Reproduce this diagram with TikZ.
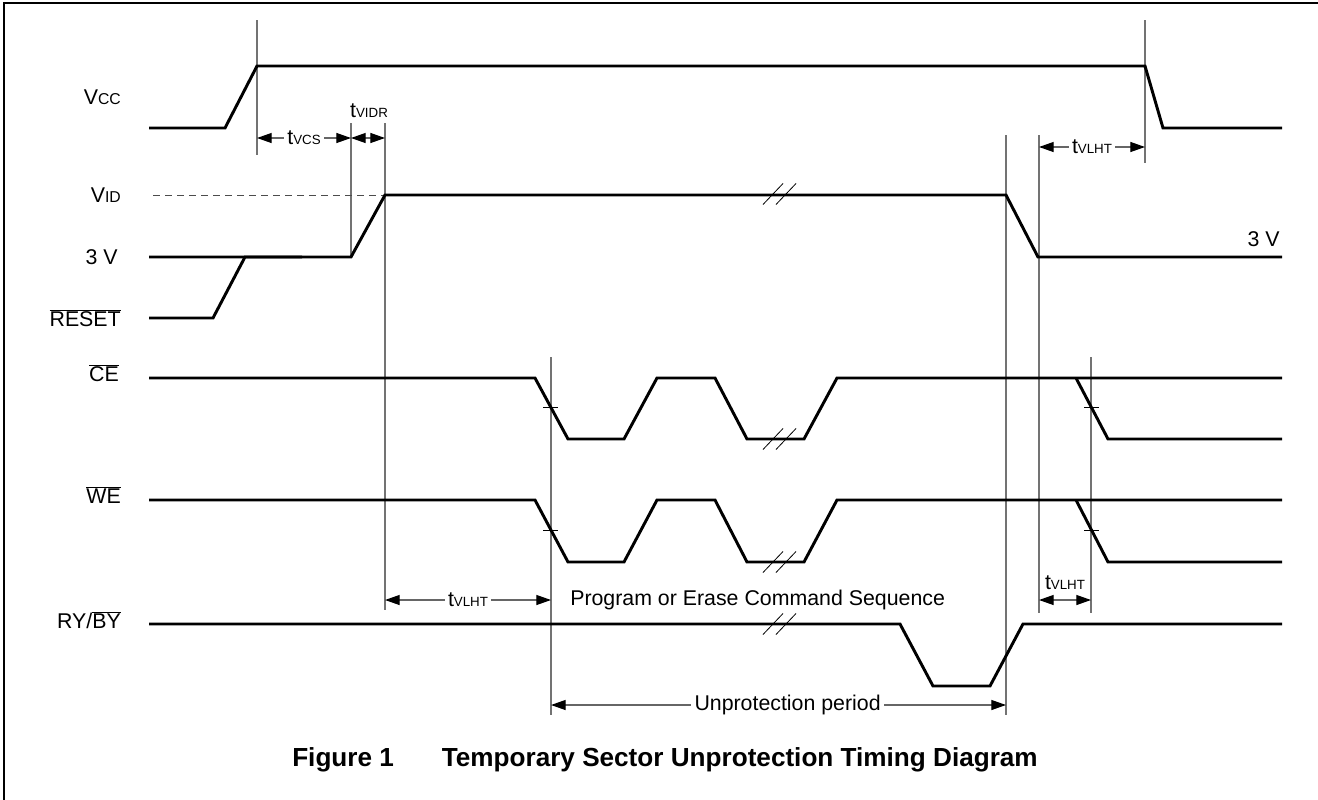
\documentclass[tikz,border=0pt]{standalone}
\usepackage{fontspec}
\setmainfont{Liberation Sans}
\usetikzlibrary{arrows.meta, positioning, calc}

\newcommand{\lblfont}{\fontsize{16pt}{18pt}\selectfont}
\newcommand{\capfont}{\bfseries\fontsize{19.6pt}{22pt}\selectfont}
\newcommand{\sigsub}[1]{{\fontsize{11.8pt}{12pt}\selectfont #1}}
\newcommand{\dimsub}[1]{{\fontsize{10pt}{10pt}\selectfont #1}}

\tikzset{
  sig/.style={line width=2.2pt},
  guide/.style={draw=black!55, line width=0.9pt},
  tick/.style={line width=0.6pt},
  brk/.style={line width=0.6pt},
  dimline/.style={draw=black!60, line width=0.9pt,
    {Triangle[length=11pt,width=7.5pt,black]}-{Triangle[length=11pt,width=7.5pt,black]}},
  lbl/.style={anchor=east, inner sep=0pt, font=\lblfont},
  dimlbl/.style={fill=white, inner sep=2.5pt, font=\lblfont},
}

\begin{document}
\begin{tikzpicture}[x=0.75pt, y=-0.75pt]
\useasboundingbox (0,0) rectangle (1318,800);
\draw[line width=1.3pt] (4,800) -- (4,3) -- (1318,3);

% Signal names
\node[lbl] (vcc)   at (121,97)  {V\sigsub{CC}};
\node[lbl] (vid)   at (121,195) {V\sigsub{ID}};
\node[lbl] (three) at (118,257) {3 V};
\node[lbl] (reset) at (121,318) {$\overline{\mbox{RESET}}$};
\node[lbl] (ce)    at (119,373) {$\overline{\mbox{CE}}$};
\node[lbl] (we)    at (121,495) {$\overline{\mbox{WE}}$};
\node[lbl] (ryby)  at (121,620) {RY/$\overline{\mbox{BY}}$};
\node[anchor=east, inner sep=0pt, font=\lblfont] (threeR) at (1280,239) {3 V};

% Guide lines
\coordinate (a1) at (257,20);   \coordinate (a2) at (257,155);
\coordinate (b1) at (351,123);  \coordinate (b2) at (351,257);
\coordinate (c1) at (385,123);  \coordinate (c2) at (385,610);
\coordinate (d1) at (551,357);  \coordinate (d2) at (551,715);
\coordinate (e1) at (1006,135); \coordinate (e2) at (1006,715);
\coordinate (f1) at (1039,135); \coordinate (f2) at (1039,613);
\coordinate (g1) at (1091,357); \coordinate (g2) at (1091,613);
\coordinate (h1) at (1145,20);  \coordinate (h2) at (1145,163);
\foreach \p in {a,b,c,d,e,f,g,h}
  \draw[guide] (\p1) -- (\p2);

% Vcc
\draw[sig] (149,128) -- (225,128) -- (257,66) -- (1145,66) -- (1163,128) -- (1282,128);

% VID / 3 V
\draw[black!70, line width=0.7pt, dash pattern=on 5pt off 4pt] (153,195) -- (385,195);
\draw[sig] (149,257) -- (351,257) -- (385,195) -- (1006,195) -- (1038,257) -- (1282,257);

% RESET
\draw[sig] (149,318) -- (213,318) -- (245,257) -- (302,257);

% CE and WE
\foreach \hi/\lo in {378/439, 500/562} {
  \draw[sig] (149,\hi) -- (535,\hi) -- (568,\lo) -- (624,\lo) -- (657,\hi) -- (715,\hi)
    -- (747,\lo) -- (804,\lo) -- (837,\hi) -- (1282,\hi);
  \draw[sig] (1076,\hi) -- (1108,\lo) -- (1282,\lo);
  \draw[tick] (543,{(\hi+\lo)/2-1}) -- (558,{(\hi+\lo)/2-1});
  \draw[tick] (1084,{(\hi+\lo)/2-1}) -- (1099,{(\hi+\lo)/2-1});
}

% RY/BY
\draw[sig] (149,624) -- (900,624) -- (933,686) -- (990,686) -- (1023,624) -- (1282,624);

% Breaks
\foreach \y in {194, 439, 562, 624} {
  \draw[brk] (763,\y+10.5) -- (783,\y-10.5);
  \draw[brk] (776,\y+10.5) -- (796,\y-10.5);
}

% Timing
\draw[dimline] (257,138) -- (351,138) node[midway, dimlbl] (tvcs) {t\dimsub{VCS}};
\draw[dimline] (351,138) -- (385,138);
\node[font=\lblfont, inner sep=0pt] (tvidr) at (369,111) {t\dimsub{VIDR}};
\draw[dimline] (1039,147) -- (1145,147) node[midway, dimlbl] (tvlhtA) {t\dimsub{VLHT}};
\draw[dimline] (385,600) -- (551,600) node[midway, dimlbl] (tvlhtB) {t\dimsub{VLHT}};
\draw[dimline] (1039,600) -- (1091,600);
\node[font=\lblfont, inner sep=0pt] (tvlhtC) at (1065,583) {t\dimsub{VLHT}};
\node[anchor=west, font=\lblfont, inner sep=0pt] (cmdseq) at (570,600) {Program or Erase Command Sequence};
\draw[dimline] (551,705) -- (1006,705) node[pos=0.52, dimlbl] (unprot) {Unprotection period};

% Caption
\node[anchor=west, font=\capfont, inner sep=0pt] (fig) at (292,760) {Figure 1};
\node[anchor=east, font=\capfont, inner sep=0pt] (title) at (1038,760) {Temporary Sector Unprotection Timing Diagram};
\end{tikzpicture}
\end{document}
